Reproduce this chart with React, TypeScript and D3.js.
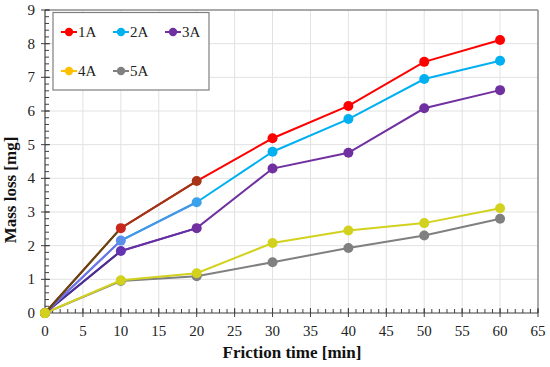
import React from "react";
import * as d3 from "d3";

const times = [0, 10, 20, 30, 40, 50, 60];
const seriesNames = ["1A", "2A", "3A", "4A", "5A"];
const s1A = [0, 2.52, 3.92, 5.19, 6.15, 7.46, 8.11];
const s2A = [0, 2.15, 3.29, 4.79, 5.76, 6.95, 7.49];
const s3A = [0, 1.84, 2.52, 4.29, 4.76, 6.08, 6.62];
const s4A = [0, 0.97, 1.18, 2.08, 2.45, 2.67, 3.11];
const s5A = [0, 0.95, 1.09, 1.51, 1.93, 2.3, 2.8];
const xTicks = [0, 5, 10, 15, 20, 25, 30, 35, 40, 45, 50, 55, 60, 65];
const yTicks = [0, 1, 2, 3, 4, 5, 6, 7, 8, 9];

const seriesValues = [s1A, s2A, s3A, s4A, s5A];
const lineColors = ["#FF0000", "#00B0F0", "#7030A0", "#D2D21E", "#808080"];
const legendColors = ["#FF0000", "#00B0F0", "#7030A0", "#FFC000", "#808080"];
// rendering artefacts in early segments of reference
const segOverride: Record<string, string> = {
  "0-0": "#5a4a14",
  "0-1": "#9a3818",
  "1-0": "#7a6ee6",
  "1-1": "#4a94e6",
  "2-0": "#4a2e92",
  "2-1": "#6430a4",
};
const markerOverride: Record<string, string> = {
  "0-1": "#c8281c",
  "0-2": "#a83418",
  "1-1": "#5a90ea",
  "1-2": "#3aa2ea",
  "2-1": "#6232b0",
};

const serif = "Liberation Serif";

export default function App() {
  const W = 550, H = 367;
  const left = 45, right = 538, top = 10, bottom = 313;
  const x = d3.scaleLinear().domain([0, 65]).range([left, right]);
  const y = d3.scaleLinear().domain([0, 9]).range([bottom, top]);
  const line = d3.line<[number, number]>().x(d => x(d[0])).y(d => y(d[1]));
  const xMinor = d3.range(0, 66, 1);
  const yMinor = d3.range(0, 9.001, 0.2);

  return (
    <svg width={W} height={H} style={{ position: "absolute", left: 0, top: 0, background: "#fff" }}>
      <rect x={0} y={0} width={W} height={H} fill="#fff" />
      {/* grid */}
      {xTicks.slice(1, -1).map(t => (
        <line key={"gx" + t} x1={x(t)} x2={x(t)} y1={top} y2={bottom} stroke="#e2e2e2" strokeWidth={1} />
      ))}
      {yTicks.slice(1, -1).map(t => (
        <line key={"gy" + t} x1={left} x2={right} y1={y(t)} y2={y(t)} stroke="#e2e2e2" strokeWidth={1} />
      ))}
      {/* frame */}
      <line x1={left} x2={right} y1={top} y2={top} stroke="#8c8c8c" strokeWidth={1.5} />
      <line x1={right} x2={right} y1={top} y2={bottom} stroke="#8c8c8c" strokeWidth={1.5} />
      {/* axes */}
      <line x1={left} x2={left} y1={top} y2={bottom} stroke="#404040" strokeWidth={1.2} />
      <line x1={left} x2={right} y1={bottom} y2={bottom} stroke="#404040" strokeWidth={1.2} />
      {xMinor.map(t => (
        <line key={"xm" + t} x1={x(t)} x2={x(t)} y1={bottom - 4} y2={bottom} stroke="#404040" strokeWidth={1} />
      ))}
      {xTicks.map(t => (
        <line key={"xM" + t} x1={x(t)} x2={x(t)} y1={bottom - 5} y2={bottom + 4} stroke="#404040" strokeWidth={1} />
      ))}
      {yMinor.map((t, i) => (
        <line key={"ym" + i} x1={left} x2={left + 4} y1={y(t)} y2={y(t)} stroke="#404040" strokeWidth={1} />
      ))}
      {yTicks.map(t => (
        <line key={"yM" + t} x1={left - 4} x2={left + 5} y1={y(t)} y2={y(t)} stroke="#404040" strokeWidth={1} />
      ))}
      {xTicks.map(t => (
        <text key={"xl" + t} x={x(t)} y={bottom + 23} textAnchor="middle" fontFamily={serif} fontSize={15} fill="#222">{t}</text>
      ))}
      {yTicks.map(t => (
        <text key={"yl" + t} x={35} y={y(t) + 5} textAnchor="end" fontFamily={serif} fontSize={15} fill="#222">{t}</text>
      ))}
      <text x={292} y={358} textAnchor="middle" fontFamily={serif} fontSize={17} fontWeight="bold" fill="#111">Friction time [min]</text>
      <text transform="translate(16,190) rotate(-90)" textAnchor="middle" fontFamily={serif} fontSize={17} fontWeight="bold" fill="#111">Mass loss [mg]</text>

      {/* series (drawn bottom to top) */}
      {[4, 3, 2, 1, 0].map(si => {
        const vals = seriesValues[si];
        const pts: [number, number][] = times.map((t, i) => [t, vals[i]]);
        return (
          <g key={"s" + si}>
            <path d={line(pts) || ""} fill="none" stroke={lineColors[si]} strokeWidth={2} />
            {pts.slice(0, -1).map((p, i) => {
              const c = segOverride[si + "-" + i];
              if (!c) return null;
              return <path key={"ov" + i} d={line([p, pts[i + 1]]) || ""} fill="none" stroke={c} strokeWidth={2} />;
            })}
            {pts.map((p, i) => (
              <circle key={"m" + i} cx={x(p[0])} cy={y(p[1])} r={5} fill={markerOverride[si + "-" + i] || lineColors[si]} />
            ))}
          </g>
        );
      })}
      {/* origin point of 4A appears on top in the reference */}
      <circle cx={x(times[0])} cy={y(s4A[0])} r={5.2} fill={lineColors[3]} />

      {/* legend */}
      <rect x={53} y={12.5} width={156} height={77.5} fill="#fff" stroke="#7f7f7f" strokeWidth={1.2} />
      {seriesNames.map((n, i) => {
        const col = i % 3, row = Math.floor(i / 3);
        const lx = 61 + col * 52;
        const ly = 32 + row * 39;
        return (
          <g key={"lg" + n}>
            <line x1={lx} x2={lx + 16} y1={ly} y2={ly} stroke={legendColors[i]} strokeWidth={2} />
            <circle cx={lx + 8} cy={ly} r={4.2} fill={legendColors[i]} />
            <text x={lx + 17} y={ly + 5} fontFamily={serif} fontSize={15} fill="#222">{n}</text>
          </g>
        );
      })}
    </svg>
  );
}
